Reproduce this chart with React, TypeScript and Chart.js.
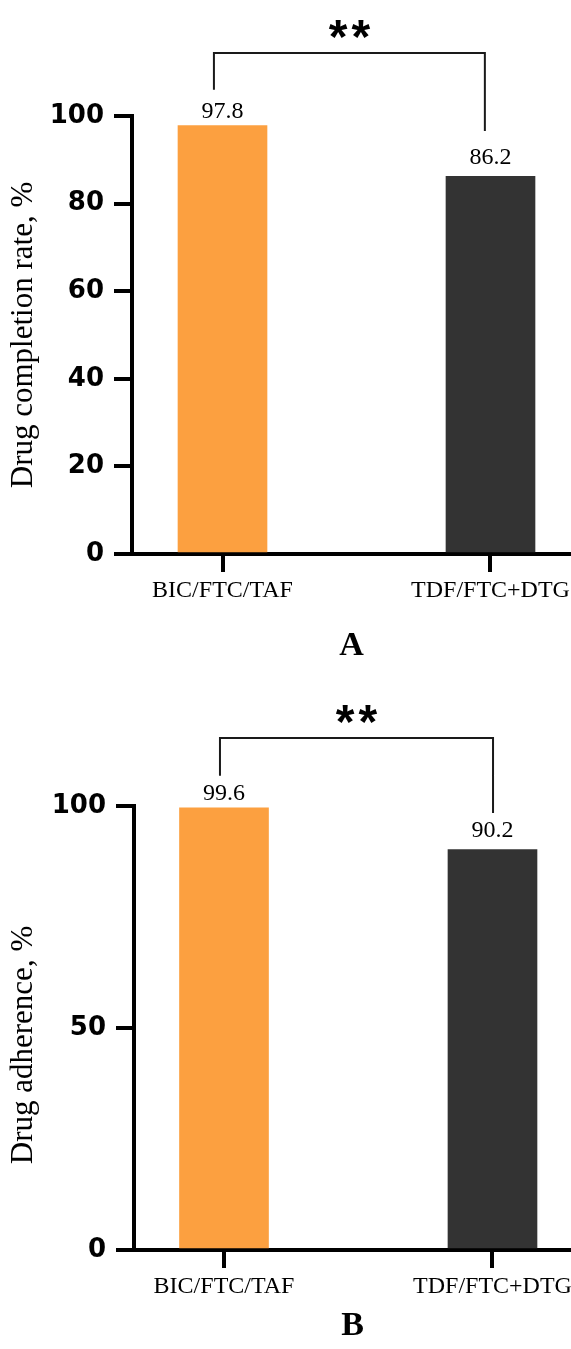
import React, { useEffect, useRef } from 'react';
import { Chart, registerables } from 'chart.js';

Chart.register(...registerables);

// ---- data ----
const categories = ['BIC/FTC/TAF', 'TDF/FTC+DTG'];
const completionRate = [97.8, 86.2];
const adherence = [99.6, 90.2];
const yTicksA = [0, 20, 40, 60, 80, 100];
const yTicksB = [0, 50, 100];
const barColors = ['#FCA040', '#333333'];
const significance = '**';

const W = 571;

const annotPlugin = {
  id: 'annot',
  afterDatasetsDraw(chart: any, _args: any, opts: any) {
    const { ctx, chartArea } = chart;
    const xs = chart.scales.x;
    const ys = chart.scales.y;
    const meta = chart.getDatasetMeta(0);
    const ds = chart.data.datasets[0].data;
    ctx.save();
    ctx.fillStyle = '#000';

    // y-axis title
    ctx.save();
    ctx.font = `${opts.yTitleSize}px "Liberation Serif"`;
    ctx.textAlign = 'center';
    ctx.textBaseline = 'middle';
    ctx.translate(opts.yTitleX, (chartArea.top + chartArea.bottom) / 2 + opts.yTitleShift);
    ctx.rotate(-Math.PI / 2);
    ctx.fillText(opts.yTitle, 0, 0);
    ctx.restore();

    // value labels
    ctx.font = '24px "Liberation Serif"';
    ctx.textAlign = 'center';
    ctx.textBaseline = 'alphabetic';
    meta.data.forEach((bar: any, i: number) => {
      const v = ds[i].y;
      ctx.fillText(v.toFixed(1), bar.x, bar.y - opts.labelGap[i]);
    });

    // significance bracket
    const xl = xs.getPixelForValue(opts.bracketX[0]);
    const xr = xs.getPixelForValue(opts.bracketX[1]);
    const yTop = ys.getPixelForValue(opts.bracketTop);
    const yl = ys.getPixelForValue(opts.bracketEnds[0]);
    const yr = ys.getPixelForValue(opts.bracketEnds[1]);
    ctx.strokeStyle = '#1a1a1a';
    ctx.lineWidth = 2;
    ctx.beginPath();
    ctx.moveTo(xl, yl);
    ctx.lineTo(xl, yTop);
    ctx.lineTo(xr, yTop);
    ctx.lineTo(xr, yr);
    ctx.stroke();
    const fs = 48;
    ctx.font = `bold ${fs}px "Liberation Sans"`;
    ctx.textBaseline = 'alphabetic';
    (ctx as any).letterSpacing = '4px';
    const cy = ys.getPixelForValue(opts.textY);
    ctx.fillText(opts.text, (xl + xr) / 2 + 2, cy + 0.58 * fs);
    ctx.restore();
  },
};

function makeConfig(p: any) {
  const axisLine = { display: true, color: '#000', width: 4 };
  const grid = {
    drawOnChartArea: false,
    drawTicks: true,
    tickLength: 18,
    lineWidth: 4,
    color: '#000',
    offset: false,
  };
  return {
    type: 'bar',
    data: {
      datasets: [
        {
          data: p.values.map((v: number, i: number) => ({ x: i, y: v })),
          backgroundColor: barColors,
          borderWidth: 0,
          barThickness: 89,
        },
      ],
    },
    options: {
      responsive: false,
      animation: false,
      devicePixelRatio: 1,
      layout: { padding: { top: p.top, left: 0, right: 0, bottom: 0 } },
      plugins: {
        legend: { display: false },
        tooltip: { enabled: false },
        annot: {
          labelGap: [8, 12.5],
          bracketX: p.bracketX,
          bracketTop: p.bracketTop,
          bracketEnds: p.bracketEnds,
          textY: p.textY,
          text: significance,
          yTitle: p.yTitle,
          yTitleSize: 31,
          yTitleX: 24,
          yTitleShift: p.yTitleShift,
        },
      },
      scales: {
        x: {
          type: 'linear',
          offset: false,
          min: p.xMin,
          max: p.xMax,
          afterBuildTicks: (s: any) => {
            s.ticks = categories.map((_, i) => ({ value: i }));
          },
          afterFit: (s: any) => {
            s.height = p.height - p.zeroY;
            s.paddingLeft = 0;
            s.paddingRight = 0;
          },
          ticks: {
            callback: (v: number) => categories[v] ?? '',
            font: { family: '"Liberation Serif"', size: 24 },
            color: '#000',
            padding: 4,
            maxRotation: 0,
            autoSkip: false,
          },
          grid,
          border: axisLine,
          title: {
            display: true,
            text: p.panel,
            font: { family: '"Liberation Serif"', size: 34, weight: 'bold' },
            color: '#000',
            padding: { top: 0, bottom: p.panelPad },
          },
        },
        y: {
          min: 0,
          max: 100,
          afterBuildTicks: (s: any) => {
            s.ticks = p.yTicks.map((v: number) => ({ value: v }));
          },
          afterFit: (s: any) => {
            s.width = p.axisX;
            s.paddingTop = 0;
            s.paddingBottom = 0;
          },
          ticks: {
            font: { family: '"DejaVu Sans"', size: 26, weight: 'bold' },
            color: '#000',
            padding: 10,
          },
          grid,
          border: axisLine,
          title: { display: false },
        },
      },
    },
    plugins: [annotPlugin],
  };
}

function BarPanel(p: any) {
  const ref = useRef<HTMLCanvasElement>(null);
  useEffect(() => {
    if (!ref.current) return;
    const chart = new Chart(ref.current, makeConfig(p) as any);
    return () => chart.destroy();
  }, []);
  return (
    <canvas
      ref={ref}
      width={W}
      height={p.height}
      style={{ display: 'block', width: W, height: p.height }}
    />
  );
}

export default function App() {
  return (
    <div style={{ position: 'absolute', left: 0, top: 0, width: W, background: '#fff' }}>
      <BarPanel
        height={680}
        top={116}
        zeroY={554}
        axisX={132}
        xMin={-0.3377}
        xMax={1.3004}
        values={completionRate}
        yTicks={yTicksA}
        yTitle="Drug completion rate, %"
        yTitleShift={0}
        panel="A"
        panelPad={13}
        bracketX={[-0.032, 0.979]}
        bracketTop={114.4}
        bracketEnds={[106.0, 96.6]}
        textY={120.8}
      />
      <BarPanel
        height={669}
        top={126}
        zeroY={570}
        axisX={134}
        xMin={-0.3352}
        xMax={1.2924}
        values={adherence}
        yTicks={yTicksB}
        yTitle="Drug adherence, %"
        yTitleShift={17}
        panel="B"
        panelPad={2}
        bracketX={[-0.015, 1.002]}
        bracketTop={115.3}
        bracketEnds={[106.8, 98.4]}
        textY={121.6}
      />
    </div>
  );
}
